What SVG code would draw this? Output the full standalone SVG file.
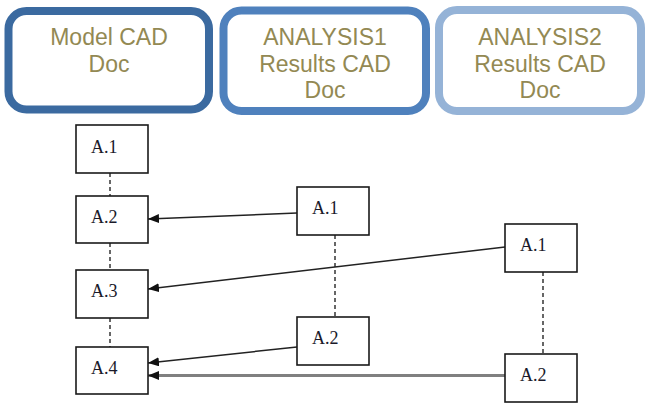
<svg xmlns="http://www.w3.org/2000/svg" width="650" height="408" viewBox="0 0 650 408">
<style>
.hdr{fill:#fff;stroke-width:8}
.ht{font-family:"Liberation Sans",Arial,sans-serif;font-size:23px;fill:#938953;text-anchor:middle}
.bx{fill:#fff;stroke:#1a1a1a;stroke-width:1.6}
.bt{font-family:"Liberation Serif","Times New Roman",serif;font-size:18px;fill:#1a1a2a}
.dash{stroke:#666;stroke-width:2;stroke-dasharray:4 3;fill:none}
.arr{stroke:#222;stroke-width:1.5;fill:none;marker-end:url(#ah)}
.arr2{stroke:#808080;stroke-width:3;fill:none;marker-end:url(#ah2)}
</style>
<defs>
<marker id="ah" markerWidth="12" markerHeight="9" refX="11" refY="4.5" orient="auto" markerUnits="userSpaceOnUse">
<path d="M0,0 L11,4.5 L0,9 Z" fill="#111"/>
</marker>
<marker id="ah2" markerWidth="12" markerHeight="9" refX="11" refY="4.5" orient="auto" markerUnits="userSpaceOnUse">
<path d="M0,0 L11,4.5 L0,9 Z" fill="#111"/>
</marker>
</defs>
<rect width="650" height="408" fill="#fff"/>
<g id="hdr-model">
<rect class="hdr" x="8.5" y="11" width="200.5" height="98.5" rx="18" stroke="#3B6AA0"/>
<text class="ht" x="109" y="45">Model CAD</text>
<text class="ht" x="109" y="72">Doc</text>
</g>
<g id="hdr-analysis1">
<rect class="hdr" x="223.5" y="10.5" width="202.5" height="100.5" rx="18" stroke="#4F81BD"/>
<text class="ht" x="325" y="45">ANALYSIS1</text>
<text class="ht" x="325" y="72">Results CAD</text>
<text class="ht" x="325" y="98">Doc</text>
</g>
<g id="hdr-analysis2">
<rect class="hdr" x="439" y="10" width="202" height="101" rx="18" stroke="#95B3D7"/>
<text class="ht" x="540" y="45">ANALYSIS2</text>
<text class="ht" x="540" y="72">Results CAD</text>
<text class="ht" x="540" y="98">Doc</text>
</g>
<g id="connectors">
<line class="dash" x1="110" y1="173" x2="110" y2="196"/>
<line class="dash" x1="110" y1="243" x2="110" y2="270"/>
<line class="dash" x1="110" y1="318" x2="110" y2="347"/>
<line class="dash" x1="335" y1="235" x2="335" y2="317"/>
<line class="dash" x1="543" y1="272" x2="543" y2="354"/>
<line class="arr" x1="297" y1="213" x2="148" y2="219"/>
<line class="arr" x1="505" y1="247" x2="148" y2="289"/>
<line class="arr" x1="297" y1="347" x2="148" y2="363"/>
<line class="arr2" x1="505" y1="375.5" x2="148" y2="375.5"/>
</g>
<g id="m-a1"><rect class="bx" x="76" y="125" width="72" height="48"/><text class="bt" x="91" y="153">A.1</text></g>
<g id="m-a2"><rect class="bx" x="76" y="196" width="72" height="47"/><text class="bt" x="91" y="223">A.2</text></g>
<g id="m-a3"><rect class="bx" x="76" y="270" width="72" height="48"/><text class="bt" x="91" y="297">A.3</text></g>
<g id="m-a4"><rect class="bx" x="76" y="347" width="72" height="47"/><text class="bt" x="91" y="374">A.4</text></g>
<g id="r1-a1"><rect class="bx" x="297" y="187" width="72" height="48"/><text class="bt" x="312" y="214">A.1</text></g>
<g id="r1-a2"><rect class="bx" x="297" y="317" width="72" height="48"/><text class="bt" x="312" y="344">A.2</text></g>
<g id="r2-a1"><rect class="bx" x="505" y="224" width="72" height="48"/><text class="bt" x="520" y="251">A.1</text></g>
<g id="r2-a2"><rect class="bx" x="505" y="354" width="72" height="48"/><text class="bt" x="520" y="381">A.2</text></g>
</svg>
